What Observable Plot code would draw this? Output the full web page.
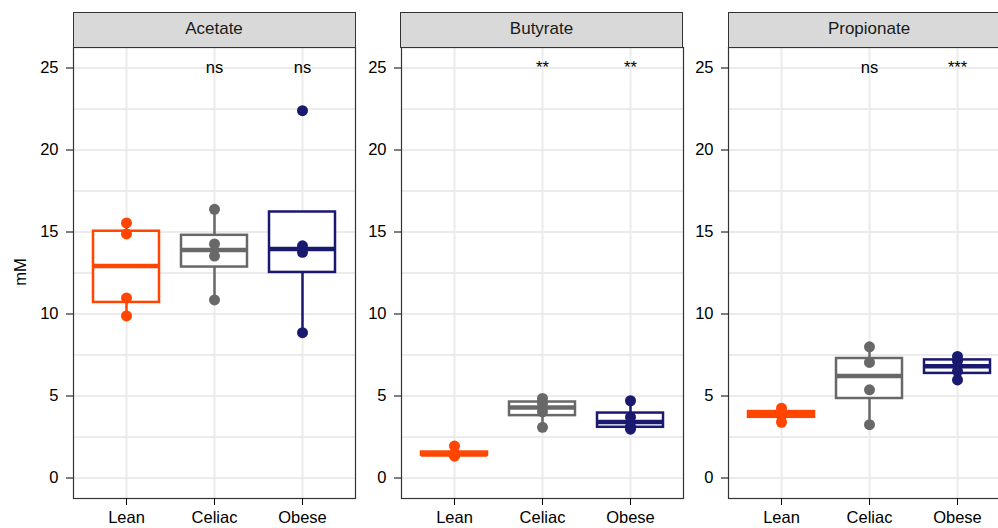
<!DOCTYPE html>
<html>
<head>
<meta charset="utf-8">
<script src="https://cdn.jsdelivr.net/npm/d3@7"></script>
<script src="https://cdn.jsdelivr.net/npm/@observablehq/plot@0.6"></script>
<style>
html, body { margin: 0; padding: 0; background: #fff; }
#chart { position: relative; width: 998px; height: 528px; overflow: hidden; background: #fff;
  font-family: "Liberation Sans", Arial, Helvetica, sans-serif; }
.panel { position: absolute; top: 0; }
.strip { position: absolute; top: 12px; height: 36px; width: 283px; box-sizing: border-box;
  background: #d9d9d9; border: 1px solid #333; display: flex; align-items: center; justify-content: center;
  font-size: 17px; color: #1a1a1a; padding-bottom: 3px; }
.ylab { position: absolute; left: 0; top: 262px; width: 40px; text-align: center; font-size: 16.5px; color: #000;
  transform: rotate(-90deg); line-height: 20px; }
</style>
</head>
<body>
<div id="chart"></div>
<script>
const groups = ["Lean", "Celiac", "Obese"];
const acids = ["Acetate", "Butyrate", "Propionate"];
const groupColors = ["#FF4500", "#686868", "#191970"];

// mM values per acid and group
const acetateLean = [9.88, 10.98, 14.88, 15.55];
const acetateCeliac = [10.86, 13.53, 14.27, 16.38];
const acetateObese = [8.86, 13.76, 14.16, 22.4];
const butyrateLean = [1.33, 1.41, 1.46, 1.95];
const butyrateCeliac = [3.09, 4.04, 4.56, 4.85];
const butyrateObese = [2.98, 3.13, 3.71, 4.71];
const propionateLean = [3.40, 3.80, 3.98, 4.26];
const propionateCeliac = [3.25, 5.38, 7.05, 8.00];
const propionateObese = [5.98, 6.51, 7.13, 7.41];

// significance labels (vs Lean)
const sigAcetate = ["", "ns", "ns"];
const sigButyrate = ["", "**", "**"];
const sigPropionate = ["", "ns", "***"];
const sigLevel = 25;

const yTicks = [0, 5, 10, 15, 20, 25];
const yGrid = [0, 2.5, 5, 7.5, 10, 12.5, 15, 17.5, 20, 22.5, 25];
const yDomain = [-1.25, 26.25];

const panelValues = [
  [acetateLean, acetateCeliac, acetateObese],
  [butyrateLean, butyrateCeliac, butyrateObese],
  [propionateLean, propionateCeliac, propionateObese]
];
const panelSigs = [sigAcetate, sigButyrate, sigPropionate];
const panelLeft = [73, 400.5, 728];
const marginLeft = 45;

function whisker(lower) {
  return {
    reduceIndex(I, V) {
      const v = Array.from(I, i => V[i]).sort(d3.ascending);
      const q1 = d3.quantile(v, 0.25), q3 = d3.quantile(v, 0.75), r = 1.5 * (q3 - q1);
      return lower ? d3.min(v.filter(d => d >= q1 - r)) : d3.max(v.filter(d => d <= q3 + r));
    }
  };
}

const chart = document.getElementById("chart");

acids.forEach((acid, k) => {
  const data = [];
  groups.forEach((g, j) => panelValues[k][j].forEach(v => data.push({group: g, value: v})));
  const sigs = groups.map((g, j) => ({group: g, label: panelSigs[k][j]})).filter(d => d.label);

  const plot = Plot.plot({
    width: 330,
    height: 528,
    marginLeft: marginLeft,
    marginRight: 3,
    marginTop: 47,
    marginBottom: 30,
    x: {domain: groups, paddingInner: 0.25, paddingOuter: 0.225, axis: null},
    y: {domain: yDomain, axis: null},
    color: {domain: groups, range: groupColors},
    style: {fontFamily: '"Liberation Sans", Arial, Helvetica, sans-serif', fontSize: "16px", color: "#000", background: "transparent"},
    marks: [
      Plot.gridY(yGrid, {stroke: "#ebebeb", strokeOpacity: 1, strokeWidth: 2}),
      Plot.gridX(groups, {stroke: "#ebebeb", strokeOpacity: 1, strokeWidth: 2}),
      Plot.ruleX(data, Plot.groupX({y1: whisker(true), y2: whisker(false)}, {x: "group", y: "value", stroke: "group", strokeWidth: 2.5})),
      Plot.barY(data, Plot.groupX({y1: "p25", y2: "p75"}, {x: "group", y: "value", fill: "white", stroke: "group", strokeWidth: 2.5})),
      Plot.tickY(data, Plot.groupX({y: "median"}, {x: "group", y: "value", stroke: "group", strokeWidth: 4.5})),
      Plot.dot(data, {x: "group", y: "value", fill: "group", r: 5.5}),
      Plot.text(sigs, {x: "group", y: () => sigLevel, text: "label", fontSize: 16.5, fill: "#000"}),
      Plot.frame({stroke: "#333", strokeWidth: 1.2}),
      Plot.axisY(yTicks, {tickSize: 7, tickPadding: 8, label: null, fontSize: 16.5}),
      Plot.axisX(groups, {tickSize: 7, tickPadding: 6, label: null, fontSize: 16.5})
    ]
  });
  plot.classList.add("panel");
  plot.style.left = (panelLeft[k] - marginLeft) + "px";
  chart.appendChild(plot);

  const strip = document.createElement("div");
  strip.className = "strip";
  strip.style.left = (panelLeft[k] - 0.5) + "px";
  strip.textContent = acid;
  chart.appendChild(strip);
});

const ylab = document.createElement("div");
ylab.className = "ylab";
ylab.textContent = "mM";
chart.appendChild(ylab);
</script>
</body>
</html>
